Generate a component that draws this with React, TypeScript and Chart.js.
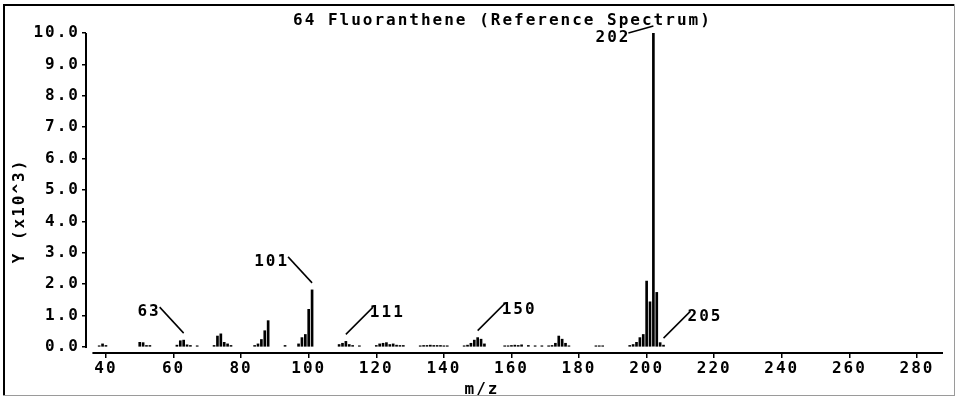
import React, { useEffect, useRef } from "react";
import { Chart, registerables } from "chart.js";

Chart.register(...registerables);

const TITLE = "64 Fluoranthene (Reference Spectrum)";
const Y_TITLE = "Y (x10^3)";
const X_TITLE = "m/z";

// m/z of each peak
const mzValues = [
  38, 39, 40,
  50, 51, 52, 53,
  61, 62, 63, 64, 65, 67,
  72, 73, 74, 75, 76, 77,
  84, 85, 86, 87, 88,
  93,
  97, 98, 99, 100, 101,
  109, 110, 111, 112, 113, 115,
  120, 121, 122, 123, 124, 125, 126, 127, 128,
  133, 134, 135, 136, 137, 138, 139, 140, 141,
  146, 147, 148, 149, 150, 151, 152,
  158, 159, 160, 161, 162, 163, 165, 167, 169, 171,
  172, 173, 174, 175, 176, 177,
  185, 186, 187,
  195, 196, 197, 198, 199, 200, 201, 202, 203, 204, 205,
];

// abundance, in thousands
const intensities = [
  0.04, 0.1, 0.05,
  0.15, 0.14, 0.05, 0.05,
  0.06, 0.2, 0.22, 0.07, 0.05, 0.04,
  0.05, 0.35, 0.42, 0.15, 0.1, 0.05,
  0.05, 0.1, 0.24, 0.52, 0.84,
  0.05,
  0.1, 0.3, 0.4, 1.2, 1.82,
  0.08, 0.12, 0.18, 0.08, 0.05, 0.04,
  0.05, 0.1, 0.12, 0.14, 0.08, 0.1, 0.06, 0.05, 0.05,
  0.04, 0.05, 0.05, 0.06, 0.05, 0.05, 0.05, 0.04, 0.04,
  0.04, 0.06, 0.12, 0.22, 0.3, 0.25, 0.1,
  0.04, 0.04, 0.05, 0.06, 0.05, 0.07, 0.05, 0.04, 0.04, 0.04,
  0.05, 0.12, 0.35, 0.25, 0.12, 0.04,
  0.04, 0.04, 0.04,
  0.05, 0.08, 0.15, 0.3, 0.4, 2.1, 1.44, 10.0, 1.74, 0.14, 0.06,
];

const xTicks = [40, 60, 80, 100, 120, 140, 160, 180, 200, 220, 240, 260, 280];
const yTicks = [0, 1, 2, 3, 4, 5, 6, 7, 8, 9, 10];

const labelledPeaks = [202, 101, 63, 111, 150, 205];
const labelSides = ["top", "left", "left", "right", "right", "right"];

const FONT_FAMILY = '"DejaVu Sans Mono", monospace';
const FONT = `bold 16px ${FONT_FAMILY}`;

const decorPlugin = {
  id: "spectrumDecor",
  beforeDraw(chart: any) {
    const ctx = chart.ctx;
    const w = chart.width;
    const h = chart.height;
    ctx.save();
    ctx.fillStyle = "#fff";
    ctx.fillRect(0, 0, w, h);
    ctx.fillStyle = "#000";
    ctx.fillRect(3, 4, w - 5, 2);
    ctx.fillRect(3, 4, 2, h - 5);
    ctx.fillStyle = "#9a9a9a";
    ctx.fillRect(3, h - 2, w - 5, 1);
    ctx.fillRect(w - 3, 4, 1, h - 5);
    ctx.restore();
    ctx.letterSpacing = "2px";
  },
  afterDraw(chart: any) {
    const ctx = chart.ctx;
    const xs = chart.scales.x;
    const ys = chart.scales.y;
    const area = chart.chartArea;
    ctx.save();
    ctx.letterSpacing = "2px";
    ctx.fillStyle = "#000";
    ctx.strokeStyle = "#000";

    // axis lines
    const yTop = ys.getPixelForValue(yTicks[yTicks.length - 1]);
    const yZero = ys.getPixelForValue(yTicks[0]);
    ctx.fillRect(area.left - 1, yTop, 2, yZero - yTop + 1);
    const xStart = xs.getPixelForValue(36);
    ctx.fillRect(xStart, area.bottom - 1, area.right - xStart, 2);

    // title
    ctx.font = FONT;
    ctx.textAlign = "left";
    ctx.textBaseline = "alphabetic";
    ctx.fillText(TITLE, 293, 25);

    // x title
    ctx.textAlign = "center";
    ctx.fillText(X_TITLE, 482, 394);

    // y title
    ctx.save();
    ctx.translate(24, 211);
    ctx.rotate(-Math.PI / 2);
    ctx.textAlign = "center";
    ctx.fillText(Y_TITLE, 0, 0);
    ctx.restore();

    // peak labels
    ctx.lineWidth = 1.5;
    labelledPeaks.forEach((m, i) => {
      const idx = mzValues.indexOf(m);
      const px = xs.getPixelForValue(m);
      const py = ys.getPixelForValue(intensities[idx]);
      const side = labelSides[i];
      ctx.beginPath();
      if (side === "left") {
        ctx.moveTo(px, py - 7);
        ctx.lineTo(px - 24, py - 33);
        ctx.stroke();
        ctx.textAlign = "right";
        ctx.fillText(String(m), px - 23, py - 24);
      } else if (side === "right") {
        ctx.moveTo(px, py - 7);
        ctx.lineTo(px + 27, py - 34);
        ctx.stroke();
        ctx.textAlign = "left";
        ctx.fillText(String(m), px + 24, py - 24);
      } else {
        ctx.moveTo(px, py - 7);
        ctx.lineTo(px - 25, py);
        ctx.stroke();
        ctx.textAlign = "right";
        ctx.fillText(String(m), px - 23, py + 9);
      }
    });
    ctx.restore();
  },
};

export default function App() {
  const ref = useRef<HTMLCanvasElement>(null);
  useEffect(() => {
    document.body.style.margin = "0";
    Chart.defaults.font.family = FONT_FAMILY;
    const chart = new Chart(ref.current as HTMLCanvasElement, {
      type: "bar",
      data: {
        datasets: [
          {
            data: mzValues.map((m, i) => ({ x: m, y: intensities[i] })),
            backgroundColor: "#000",
            borderWidth: 0,
            barThickness: 2,
          } as any,
        ],
      },
      options: {
        animation: false,
        responsive: false,
        layout: { padding: { top: 33, right: 14, left: 0, bottom: 0 } },
        plugins: {
          legend: { display: false },
          title: { display: false },
          tooltip: { enabled: false },
        },
        scales: {
          x: {
            type: "linear",
            offset: false,
            min: 34.1,
            max: 287.7,
            afterBuildTicks: (s: any) => {
              s.ticks = xTicks.map((v) => ({ value: v }));
            },
            afterFit: (s: any) => {
              s.height = 44;
            },
            border: { display: false },
            grid: {
              offset: false,
              drawOnChartArea: false,
              drawTicks: true,
              tickLength: 5,
              color: "#000",
              lineWidth: 1.5,
            },
            ticks: {
              color: "#000",
              font: { size: 16, family: FONT_FAMILY, weight: "bold" },
              padding: 1,
              maxRotation: 0,
              autoSkip: false,
              callback: (v: any) => String(v),
            },
          },
          y: {
            type: "linear",
            min: -0.19,
            max: 10,
            afterBuildTicks: (s: any) => {
              s.ticks = yTicks.map((v) => ({ value: v }));
            },
            afterFit: (s: any) => {
              s.width = 86;
            },
            border: { display: false },
            grid: {
              drawOnChartArea: false,
              drawTicks: true,
              tickLength: 4,
              color: "#000",
              lineWidth: 1.5,
            },
            ticks: {
              color: "#000",
              font: { size: 16, family: FONT_FAMILY, weight: "bold" },
              padding: 2,
              autoSkip: false,
              callback: (v: any) => Number(v).toFixed(1),
            },
          },
        },
      },
      plugins: [decorPlugin],
    });
    return () => chart.destroy();
  }, []);
  return (
    <div style={{ width: 957, height: 397 }}>
      <canvas ref={ref} width={957} height={397} style={{ display: "block" }} />
    </div>
  );
}
